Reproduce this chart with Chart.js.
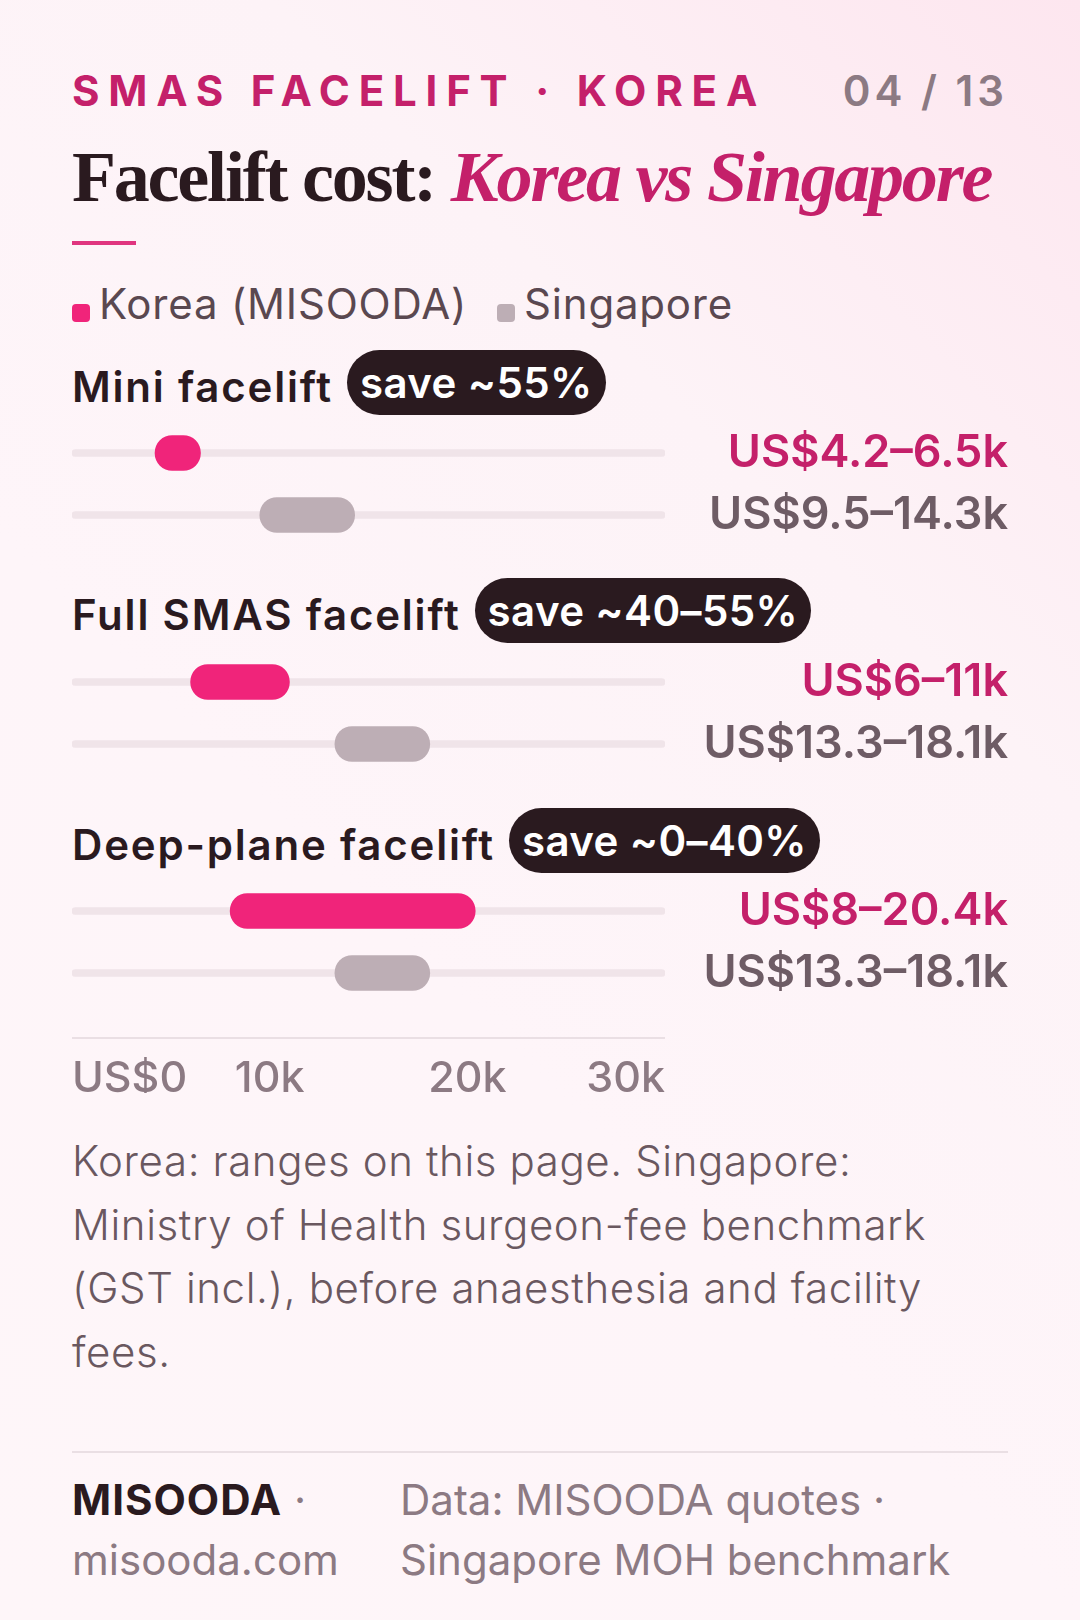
<!DOCTYPE html>
<html>
<head>
<meta charset="utf-8">
<script src="https://cdn.jsdelivr.net/npm/chart.js@4.4.0/dist/chart.umd.min.js"></script>
<style>
  html, body { margin: 0; padding: 0; }
  body {
    width: 1080px; height: 1620px; position: relative; overflow: hidden;
    font-family: Inter, "Noto Sans", sans-serif;
    background: linear-gradient(225deg, #fde6ef 0%, #fdf3f7 30%, #fef5f9 60%, #fef6f9 100%);
    color: #2a1a1f;
  }
  .abs { position: absolute; }
  .kicker { left: 72px; top: 70px; font-size: 42px; line-height: 42px; font-weight: 700; letter-spacing: 8.8px; color: #c4206a; }
  .pager { right: 72px; top: 70px; font-size: 42px; line-height: 42px; font-weight: 600; letter-spacing: 4px; color: #8c7a83; }
  .title { left: 72px; top: 141px; font-family: "Liberation Serif", "DejaVu Serif", serif; font-size: 72px; line-height: 72px; font-weight: 700; letter-spacing: -2.2px; color: #2a1a1f; white-space: nowrap; }
  .title em { color: #c4206a; }
  .rule { left: 72px; top: 241px; width: 64px; height: 4px; background: #e0357f; }
  .legend { left: 72px; top: 283px; font-size: 42px; line-height: 42px; letter-spacing: 0.8px; color: #5a4850; display: flex; align-items: center; }
  .legend .sw { width: 18px; height: 18px; border-radius: 4px; margin-right: 9px; margin-top: 18px; }
  .legend .item { display: flex; align-items: center; margin-right: 30px; }
  .group { left: 72px; display: flex; align-items: center; height: 65px; }
  .group .name { font-size: 42px; font-weight: 600; letter-spacing: 1.8px; color: #2a1a1f; margin-top: 8px; }
  .group .badge { margin-left: 14px; background: #2a1a1f; color: #fff; font-size: 42px; font-weight: 600; letter-spacing: 0.4px; height: 65px; line-height: 65px; padding: 0 13px; border-radius: 33px; }
  canvas { display: block; }
  .chart { left: 72px; width: 936px; height: 124px; }
  .axis { left: 72px; width: 593px; height: 110px; }
  .note { left: 72px; top: 1129px; font-size: 42px; line-height: 63.5px; font-weight: 300; letter-spacing: 0.6px; color: #6a5860; width: 980px; white-space: nowrap; }
  .divider { left: 72px; top: 1451px; width: 936px; height: 2px; background: #eadfe4; }
  .foot { font-size: 42px; line-height: 60px; color: #8c7a83; top: 1470px; white-space: nowrap; }
  .foot b { color: #2a1a1f; font-weight: 700; letter-spacing: 1px; }
</style>
</head>
<body>
<div class="abs kicker">SMAS FACELIFT · KOREA</div>
<div class="abs pager">04 / 13</div>
<div class="abs title">Facelift cost: <em>Korea vs Singapore</em></div>
<div class="abs rule"></div>
<div class="abs legend" id="legend"></div>

<div id="groups"></div>

<div class="abs axis" style="top:983px"><canvas id="axisChart"></canvas></div>

<div class="abs note">Korea: ranges on this page. Singapore:<br>Ministry of Health surgeon-fee benchmark<br>(GST incl.), before anaesthesia and facility<br>fees.</div>
<div class="abs divider"></div>
<div class="abs foot" style="left:72px"><b>MISOODA</b> ·<br>misooda.com</div>
<div class="abs foot" style="left:400px">Data: MISOODA quotes ·<br>Singapore MOH benchmark</div>

<script>
// values in US$ thousands
const XMIN = 0;
const XMAX = 30;
const procedures = ['Mini facelift', 'Full SMAS facelift', 'Deep-plane facelift'];
const savings = ['save ~55%', 'save ~40–55%', 'save ~0–40%'];
const koreaLow = [4.2, 6, 8];
const koreaHigh = [6.5, 11, 20.4];
const sgLow = [9.5, 13.3, 13.3];
const sgHigh = [14.3, 18.1, 18.1];
const seriesNames = ['Korea (MISOODA)', 'Singapore'];
const axisTicks = ['US$0', '10k', '20k', '30k'];

const PINK = '#f0247a';
const PINK_TEXT = '#c4206a';
const GREY = '#bdaeb5';
const GREY_TEXT = '#6e5c65';
const TRACK = '#f0e4e9';

// layout: top of each group's title row and chart area
const titleTops = [350, 578, 808];
const chartTops = [422, 651, 880];

// legend
const legend = document.getElementById('legend');
[PINK, GREY].forEach(function (c, i) {
  const item = document.createElement('div');
  item.className = 'item';
  item.innerHTML = '<span class="sw" style="background:' + c + '"></span><span>' + seriesNames[i] + '</span>';
  legend.appendChild(item);
});

function rangeLabel(lo, hi) {
  return 'US$' + lo + '–' + hi + 'k';
}

const groupsEl = document.getElementById('groups');
procedures.forEach(function (name, g) {
  const head = document.createElement('div');
  head.className = 'abs group';
  head.style.top = titleTops[g] + 'px';
  head.innerHTML = '<span class="name">' + name + '</span><span class="badge">' + savings[g] + '</span>';
  groupsEl.appendChild(head);

  const wrap = document.createElement('div');
  wrap.className = 'abs chart';
  wrap.style.top = chartTops[g] + 'px';
  const canvas = document.createElement('canvas');
  wrap.appendChild(canvas);
  groupsEl.appendChild(wrap);

  const labels = [rangeLabel(koreaLow[g], koreaHigh[g]), rangeLabel(sgLow[g], sgHigh[g])];

  new Chart(canvas.getContext('2d'), {
    type: 'bar',
    data: {
      labels: labels,
      datasets: [
        {
          label: 'range',
          data: [[koreaLow[g], koreaHigh[g]], [sgLow[g], sgHigh[g]]],
          backgroundColor: [PINK, GREY],
          barThickness: 35,
          borderRadius: 18,
          borderSkipped: false,
          grouped: false,
          order: 1
        },
        {
          label: 'track',
          data: [[XMIN, XMAX], [XMIN, XMAX]],
          backgroundColor: TRACK,
          barThickness: 7,
          borderRadius: 4,
          borderSkipped: false,
          grouped: false,
          order: 2
        }
      ]
    },
    options: {
      indexAxis: 'y',
      responsive: true,
      maintainAspectRatio: false,
      animation: false,
      layout: { padding: 0 },
      plugins: {
        legend: { display: false },
        tooltip: { enabled: false }
      },
      scales: {
        x: {
          type: 'linear',
          min: XMIN,
          max: XMAX,
          display: false
        },
        y: {
          position: 'right',
          grid: { display: false, drawTicks: false },
          border: { display: false },
          afterFit: function (scale) {
            scale.width = 343;
            scale.paddingTop = 0;
            scale.paddingBottom = 0;
          },
          ticks: {
            autoSkip: false,
            crossAlign: 'far',
            padding: 0,
            color: function (ctx) { return ctx.index === 0 ? PINK_TEXT : GREY_TEXT; },
            font: { family: 'Inter', size: 45, weight: '600' }
          }
        }
      }
    }
  });
});

// shared x axis
new Chart(document.getElementById('axisChart').getContext('2d'), {
  type: 'bar',
  data: { labels: [], datasets: [{ data: [] }] },
  options: {
    indexAxis: 'y',
    responsive: true,
    maintainAspectRatio: false,
    animation: false,
    layout: { padding: 0 },
    plugins: { legend: { display: false }, tooltip: { enabled: false } },
    scales: {
      x: {
        type: 'linear',
        min: XMIN,
        max: XMAX,
        grid: { display: false, drawTicks: false },
        border: { display: true, color: '#eadfe4', width: 2 },
        afterFit: function (scale) {
          scale.paddingLeft = 0;
          scale.paddingRight = 0;
        },
        ticks: {
          stepSize: 10,
          autoSkip: false,
          maxRotation: 0,
          align: 'inner',
          padding: 15,
          color: '#8c7a83',
          font: { family: 'Inter', size: 43, weight: '500' },
          callback: function (v, i) { return axisTicks[i]; }
        }
      },
      y: { display: false }
    }
  }
});
</script>
</body>
</html>
